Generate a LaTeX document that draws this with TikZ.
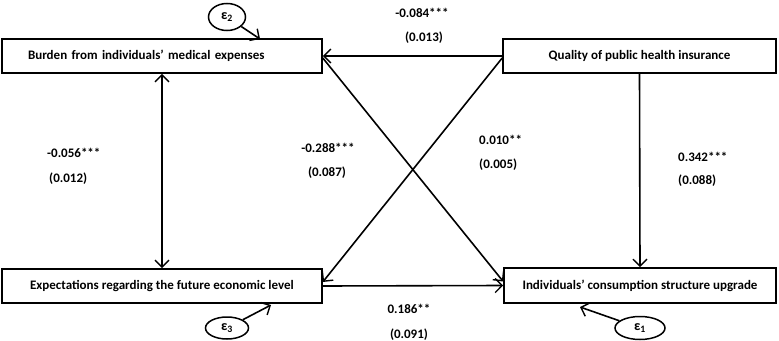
\documentclass[tikz,border=0pt]{standalone}
\usepackage{fontspec}
\setmainfont{Carlito}
\usetikzlibrary{arrows.meta,shapes.geometric}
\begin{document}
\begin{tikzpicture}[x=1pt,y=-1pt,
  font=\fontsize{13}{15}\selectfont\bfseries,
  box/.style={draw,line width=1.6pt,minimum height=34pt,inner sep=0pt},
  err/.style={draw,ellipse,line width=1.5pt,inner sep=0pt,font=\fontsize{14}{16}\selectfont\bfseries},
  lab/.style={inner sep=0pt,anchor=base west},
  clab/.style={inner sep=0pt,anchor=base},
  tip/.tip={Straight Barb[length=7pt,width=14pt,line width=1.4pt]},
  arr/.style={line width=1.6pt,-tip},
  darr/.style={line width=1.6pt,tip-tip}]
\useasboundingbox (0,0) rectangle (779,340);
\node[box,minimum width=320pt,text width=268pt,inner xsep=26pt,align=left] (b1) at (162,56) {Burden from individuals’ medical expenses};
\node[box,minimum width=273pt] (b2) at (639.5,56) {Quality of public health insurance};
\node[box,minimum width=320pt] (b3) at (162,286) {Expectations regarding the future economic level};
\node[box,minimum width=272pt,minimum height=35pt] (b4) at (640,285.5) {Individuals’ consumption structure upgrade};
\node[err,minimum width=37pt,minimum height=27pt] (e2) at (227,17) {ε\textsubscript{2}};
\node[err,minimum width=43pt,minimum height=22pt] (e3) at (227,328) {ε\textsubscript{3}};
\node[err,minimum width=50pt,minimum height=23pt] (e1) at (640,328) {ε\textsubscript{1}};
\coordinate (t2) at (260,39);
\coordinate (t3) at (271,305);
\coordinate (t1) at (580,307);
\draw[arr] (e2) -- (t2);
\draw[arr] (e3) -- (t3);
\draw[arr] (e1) -- (t1);
\draw[arr] (b2.west) -- (b1.east);
\draw[arr] ([yshift=-2pt]b2.west) -- ([yshift=4pt]b3.east);
\draw[arr] ([yshift=-2pt]b1.east) -- ([yshift=4pt]b4.west);
\draw[darr] (b1.south) -- (b3.north);
\draw[arr] (b3.east) -- (b4.west);
\draw[arr] (b2.south) -- (b4.north);
\node[clab] (l1a) at (422,17) {-0.084***};
\node[clab] (l1b) at (424,41) {(0.013)};
\node[lab] (l2a) at (47,157) {-0.056***};
\node[lab] (l2b) at (49,182) {(0.012)};
\node[clab] (l3a) at (328,152) {-0.288***};
\node[clab] (l3b) at (327,176) {(0.087)};
\node[lab] (l4a) at (479,144) {0.010**};
\node[lab] (l4b) at (479,168) {(0.005)};
\node[lab] (l5a) at (678,161) {0.342***};
\node[lab] (l5b) at (678,184) {(0.088)};
\node[clab] (l6a) at (409,313) {0.186**};
\node[clab] (l6b) at (409,338) {(0.091)};
\end{tikzpicture}
\end{document}
